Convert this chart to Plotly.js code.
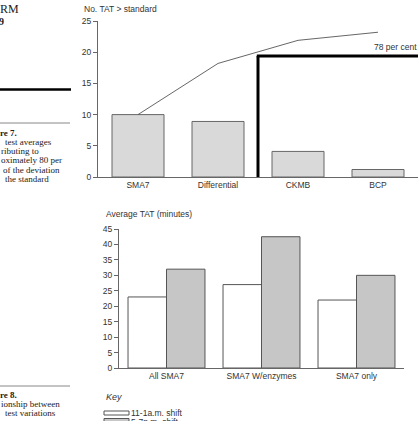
<!DOCTYPE html>
<html>
<head>
<meta charset="utf-8">
<script src="https://cdn.plot.ly/plotly-3.0.1.min.js"></script>
<style>
  html, body { margin: 0; padding: 0; background: #fff; }
  #chart { width: 419px; height: 421px; }
</style>
</head>
<body>
<div id="chart"></div>
<script>
// Figure 7: tests with turnaround time above standard (Pareto style)
const testNames = ['SMA7', 'Differential', 'CKMB', 'BCP'];
const tatOverStandard = [10, 8.9, 4.1, 1.2];
const cumulativeCurve = [10, 18.2, 21.9, 23.2];
const thresholdLabel = '78 per cent';
const thresholdValue = 19.4;
const thresholdBoundary = 1.5;   // between Differential and CKMB

// Figure 8: average turnaround time by shift
const testGroups = ['All SMA7', 'SMA7 W/enzymes', 'SMA7 only'];
const morningShift = [23, 27, 22];
const eveningShift = [32, 42.5, 30];
const shiftNames = ['11-1a.m. shift', '5-7p.m. shift'];

const W = 419, H = 421;
const px = x => x / W;          // pixel -> paper x
const py = y => 1 - y / H;      // pixel -> paper y

const sans = 'Liberation Sans, Arial, sans-serif';
const serif = 'Liberation Serif, Times New Roman, serif';
const ink = '#333';
const axisGrey = '#666';

const traces = [
  {
    type: 'bar', x: testNames, y: tatOverStandard, xaxis: 'x', yaxis: 'y',
    width: 0.65,
    marker: { color: '#d9d9d9', line: { color: '#666', width: 1 } },
    hoverinfo: 'skip', showlegend: false
  },
  {
    type: 'scatter', mode: 'lines', x: testNames, y: cumulativeCurve,
    xaxis: 'x', yaxis: 'y',
    line: { color: '#555', width: 0.9 },
    hoverinfo: 'skip', showlegend: false
  },
  {
    type: 'bar', name: shiftNames[0], x: testGroups, y: morningShift,
    xaxis: 'x2', yaxis: 'y2',
    marker: { color: '#ffffff', line: { color: '#555', width: 1 } },
    hoverinfo: 'skip', showlegend: false
  },
  {
    type: 'bar', name: shiftNames[1], x: testGroups, y: eveningShift,
    xaxis: 'x2', yaxis: 'y2',
    marker: { color: '#c6c6c6', line: { color: '#555', width: 1 } },
    hoverinfo: 'skip', showlegend: false
  }
];

const yAxisCommon = {
  showgrid: false, zeroline: false, showline: true,
  linecolor: axisGrey, linewidth: 1,
  ticks: 'outside', ticklen: 4, tickcolor: axisGrey, tickwidth: 1,
  tickfont: { family: sans, size: 8.5, color: ink },
  fixedrange: true
};
const xAxisCommon = {
  showgrid: false, zeroline: false, showline: true,
  linecolor: axisGrey, linewidth: 1, ticks: '',
  tickfont: { family: sans, size: 8.5, color: ink },
  fixedrange: true
};

const leftText = (text, x, y, opts = {}) => ({
  xref: 'paper', yref: 'paper', x: px(x), y: py(y),
  xanchor: 'left', yanchor: 'middle', showarrow: false,
  text: text,
  font: Object.assign({ family: serif, size: 9, color: '#222' }, opts)
});

const layout = {
  width: W, height: H,
  margin: { l: 0, r: 0, t: 0, b: 0 },
  paper_bgcolor: '#fff', plot_bgcolor: 'rgba(0,0,0,0)',
  barmode: 'group', bargap: 0.19, bargroupgap: 0,
  showlegend: false,
  xaxis: Object.assign({}, xAxisCommon, {
    domain: [px(98), px(418)], range: [-0.5, 3.5], anchor: 'y'
  }),
  yaxis: Object.assign({}, yAxisCommon, {
    domain: [py(177), py(21)], range: [0, 25], dtick: 5, anchor: 'x'
  }),
  xaxis2: Object.assign({}, xAxisCommon, {
    domain: [px(119), px(404)], range: [-0.5, 2.5], anchor: 'y2'
  }),
  yaxis2: Object.assign({}, yAxisCommon, {
    domain: [py(368), py(229)], range: [0, 45], dtick: 5, anchor: 'x2'
  }),
  shapes: [
    // boundary of the tests making up 78 per cent
    { type: 'line', xref: 'x', yref: 'y', x0: thresholdBoundary, x1: thresholdBoundary,
      y0: 0, y1: thresholdValue, line: { color: '#000', width: 3 } },
    { type: 'line', xref: 'x', yref: 'y', x0: thresholdBoundary - 0.015, x1: 3.5,
      y0: thresholdValue, y1: thresholdValue, line: { color: '#000', width: 3 } },
    // key swatches
    { type: 'rect', xref: 'paper', yref: 'paper', x0: px(104), x1: px(129),
      y0: py(415), y1: py(411), fillcolor: '#fff', line: { color: '#555', width: 1 } },
    { type: 'rect', xref: 'paper', yref: 'paper', x0: px(104), x1: px(129),
      y0: py(423), y1: py(418.5), fillcolor: '#c6c6c6', line: { color: '#555', width: 1 } },
    // page rules in the side column
    { type: 'line', xref: 'paper', yref: 'paper', x0: 0, x1: px(71),
      y0: py(89.5), y1: py(89.5), line: { color: '#000', width: 2.5 } },
    { type: 'line', xref: 'paper', yref: 'paper', x0: 0, x1: px(70),
      y0: py(123), y1: py(123), line: { color: '#888', width: 1 } },
    { type: 'line', xref: 'paper', yref: 'paper', x0: 0, x1: px(70),
      y0: py(386), y1: py(386), line: { color: '#888', width: 1 } }
  ],
  annotations: [
    { xref: 'paper', yref: 'paper', x: px(82), y: py(9), xanchor: 'left', yanchor: 'middle',
      showarrow: false, text: 'No. TAT &gt; standard',
      font: { family: sans, size: 8.5, color: ink } },
    { xref: 'paper', yref: 'y', x: px(419), y: thresholdValue, xanchor: 'right', yanchor: 'bottom',
      yshift: 2, showarrow: false, text: thresholdLabel,
      font: { family: sans, size: 8.5, color: ink } },
    { xref: 'paper', yref: 'paper', x: px(104), y: py(214), xanchor: 'left', yanchor: 'middle',
      showarrow: false, text: 'Average TAT (minutes)',
      font: { family: sans, size: 8.5, color: ink } },
    { xref: 'paper', yref: 'paper', x: px(104), y: py(397), xanchor: 'left', yanchor: 'middle',
      showarrow: false, text: '<i>Key</i>',
      font: { family: sans, size: 9, color: ink } },
    { xref: 'paper', yref: 'paper', x: px(129), y: py(413), xanchor: 'left', yanchor: 'middle',
      showarrow: false, text: shiftNames[0],
      font: { family: sans, size: 8.5, color: ink } },
    { xref: 'paper', yref: 'paper', x: px(129), y: py(422), xanchor: 'left', yanchor: 'middle',
      showarrow: false, text: shiftNames[1],
      font: { family: sans, size: 8.5, color: ink } },
    // side column text
    leftText('RM', -2, 9, { size: 12 }),
    leftText('<b>9</b>', -3, 22, { size: 10 }),
    leftText('<b>re 7.</b>', -2, 133),
    leftText('test averages', 3, 142),
    leftText('ributing to', -1, 151),
    leftText('oximately 80 per', -1, 160),
    leftText('of the deviation', 1, 169.5),
    leftText('the standard', 3, 178.5),
    leftText('<b>re 8.</b>', -2, 395),
    leftText('ionship between', -1, 404),
    leftText('test variations', 3, 413)
  ]
};

Plotly.newPlot('chart', traces, layout, { staticPlot: true, displayModeBar: false });
</script>
</body>
</html>
